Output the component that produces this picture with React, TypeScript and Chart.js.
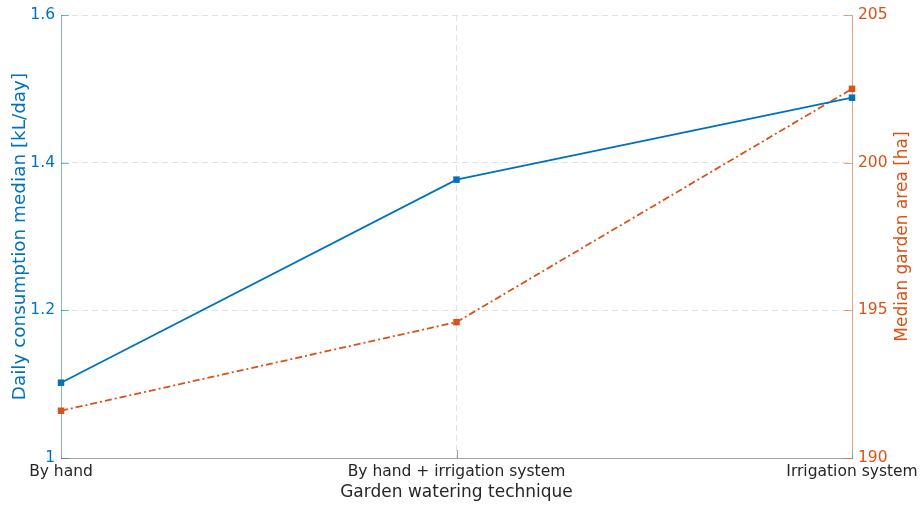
import React, { useEffect, useRef } from "react";
import { Chart, registerables } from "chart.js";

Chart.register(...registerables);

const categories = ["By hand", "By hand + irrigation system", "Irrigation system"];
const consumptionMedian = [1.102, 1.377, 1.488];
const gardenAreaMedian = [191.6, 194.6, 202.5];
const leftTickValues = [1, 1.2, 1.4, 1.6];
const rightTickValues = [190, 195, 200, 205];
const leftTitle = "Daily consumption median [kL/day]";
const rightTitle = "Median garden area [ha]";
const xTitle = "Garden watering technique";

const BLUE = "#0072BD";
const ORANGE = "#D95319";
const BLUE_AXIS = "rgba(0,114,189,0.5)";
const ORANGE_AXIS = "rgba(217,83,25,0.55)";
const GRAY_AXIS = "#a0a0a0";
const GRID = "#dce3ea";
const TEXT = "#262626";
const FONT = "'DejaVu Sans', Verdana, sans-serif";
const TICK_SIZE = 15.5;
const TITLE_SIZE = 17;

const inwardTicks = {
  id: "inwardTicks",
  afterDatasetsDraw(chart: any) {
    const { ctx, chartArea, scales } = chart;
    const len = 8;
    ctx.save();
    ctx.lineWidth = 1;
    ctx.strokeStyle = BLUE_AXIS;
    scales.y.ticks.forEach((t: any) => {
      const y = Math.round(scales.y.getPixelForValue(t.value)) + 0.5;
      ctx.beginPath();
      ctx.moveTo(chartArea.left, y);
      ctx.lineTo(chartArea.left + len, y);
      ctx.stroke();
    });
    ctx.strokeStyle = ORANGE_AXIS;
    scales.y1.ticks.forEach((t: any) => {
      const y = Math.round(scales.y1.getPixelForValue(t.value)) + 0.5;
      ctx.beginPath();
      ctx.moveTo(chartArea.right - len, y);
      ctx.lineTo(chartArea.right, y);
      ctx.stroke();
    });
    ctx.strokeStyle = GRAY_AXIS;
    scales.x.ticks.forEach((_t: any, i: number) => {
      const x = Math.round(scales.x.getPixelForTick(i)) + 0.5;
      ctx.beginPath();
      ctx.moveTo(x, chartArea.bottom);
      ctx.lineTo(x, chartArea.bottom - len);
      ctx.stroke();
    });
    ctx.restore();
  },
  afterDraw(chart: any) {
    const { ctx, chartArea } = chart;
    ctx.save();
    ctx.translate(903, (chartArea.top + chartArea.bottom) / 2);
    ctx.rotate(-Math.PI / 2);
    ctx.fillStyle = ORANGE;
    ctx.font = `${TITLE_SIZE}px ${FONT}`;
    ctx.textAlign = "center";
    ctx.textBaseline = "middle";
    ctx.fillText(rightTitle, 0, 0);
    ctx.restore();
  },
};

export default function App() {
  const ref = useRef<HTMLCanvasElement | null>(null);
  useEffect(() => {
    if (!ref.current) return;
    const chart = new Chart(ref.current, {
      type: "line",
      data: {
        labels: categories,
        datasets: [
          {
            label: "Daily consumption median",
            data: consumptionMedian,
            yAxisID: "y",
            borderColor: BLUE,
            backgroundColor: BLUE,
            borderWidth: 1.8,
            pointStyle: "rect",
            pointRadius: 4.6,
            pointBorderWidth: 0,
            tension: 0,
            clip: false as any,
          },
          {
            label: "Median garden area",
            data: gardenAreaMedian,
            yAxisID: "y1",
            borderColor: ORANGE,
            backgroundColor: ORANGE,
            borderWidth: 1.8,
            borderDash: [7, 3, 2, 3],
            pointStyle: "rect",
            pointRadius: 4.6,
            pointBorderWidth: 0,
            tension: 0,
            clip: false as any,
          },
        ],
      },
      options: {
        responsive: false,
        animation: false,
        layout: { padding: { top: 15, left: 0, right: 0, bottom: 0 } },
        plugins: { legend: { display: false }, tooltip: { enabled: false } },
        scales: {
          x: {
            type: "category",
            offset: false,
            afterFit: (s: any) => {
              s.height = 48;
              s.paddingLeft = 0;
              s.paddingRight = 0;
            },
            grid: {
              drawTicks: false,
              color: (c: any) => (c.index === 1 ? GRID : "rgba(0,0,0,0)"),
              lineWidth: 1,
            },
            border: { display: true, color: GRAY_AXIS, width: 1, dash: [6, 4] },
            ticks: {
              padding: 5,
              color: TEXT,
              font: { family: FONT, size: TICK_SIZE },
              maxRotation: 0,
              autoSkip: false,
            },
            title: {
              display: true,
              text: xTitle,
              color: TEXT,
              font: { family: FONT, size: TITLE_SIZE },
              padding: { top: 0, bottom: 3 },
            },
          },
          y: {
            type: "linear",
            position: "left",
            min: 1,
            max: 1.6,
            afterFit: (s: any) => {
              s.width = 61;
              s.paddingTop = 0;
              s.paddingBottom = 0;
            },
            afterBuildTicks: (s: any) => { s.ticks = leftTickValues.map((v) => ({ value: v })); },
            grid: {
              drawTicks: false,
              color: (c: any) => (c.index === 0 ? "rgba(0,0,0,0)" : GRID),
              lineWidth: 1,
            },
            border: { display: true, color: BLUE_AXIS, width: 1, dash: [6, 4] },
            ticks: {
              padding: 6,
              color: BLUE,
              font: { family: FONT, size: TICK_SIZE },
              callback: (v: any) => String(Math.round(Number(v) * 10) / 10),
            },
            title: {
              display: true,
              text: leftTitle,
              color: BLUE,
              font: { family: FONT, size: 18.4 },
              padding: { top: 9.5, bottom: 0 },
            },
          },
          y1: {
            type: "linear",
            position: "right",
            min: 190,
            max: 205,
            afterFit: (s: any) => {
              s.width = 68;
              s.paddingTop = 0;
              s.paddingBottom = 0;
            },
            afterBuildTicks: (s: any) => { s.ticks = rightTickValues.map((v) => ({ value: v })); },
            grid: { display: false, drawTicks: false },
            border: { display: true, color: ORANGE_AXIS, width: 1 },
            ticks: {
              padding: 6,
              color: ORANGE,
              font: { family: FONT, size: TICK_SIZE },
              callback: (v: any) => String(v),
            },
            title: { display: false },
          },
        },
      },
      plugins: [inwardTicks],
    });
    return () => chart.destroy();
  }, []);
  return (
    <div style={{ position: "absolute", left: 0, top: 0, width: 920, height: 506, background: "#fff" }}>
      <canvas ref={ref} width={920} height={506} />
    </div>
  );
}
